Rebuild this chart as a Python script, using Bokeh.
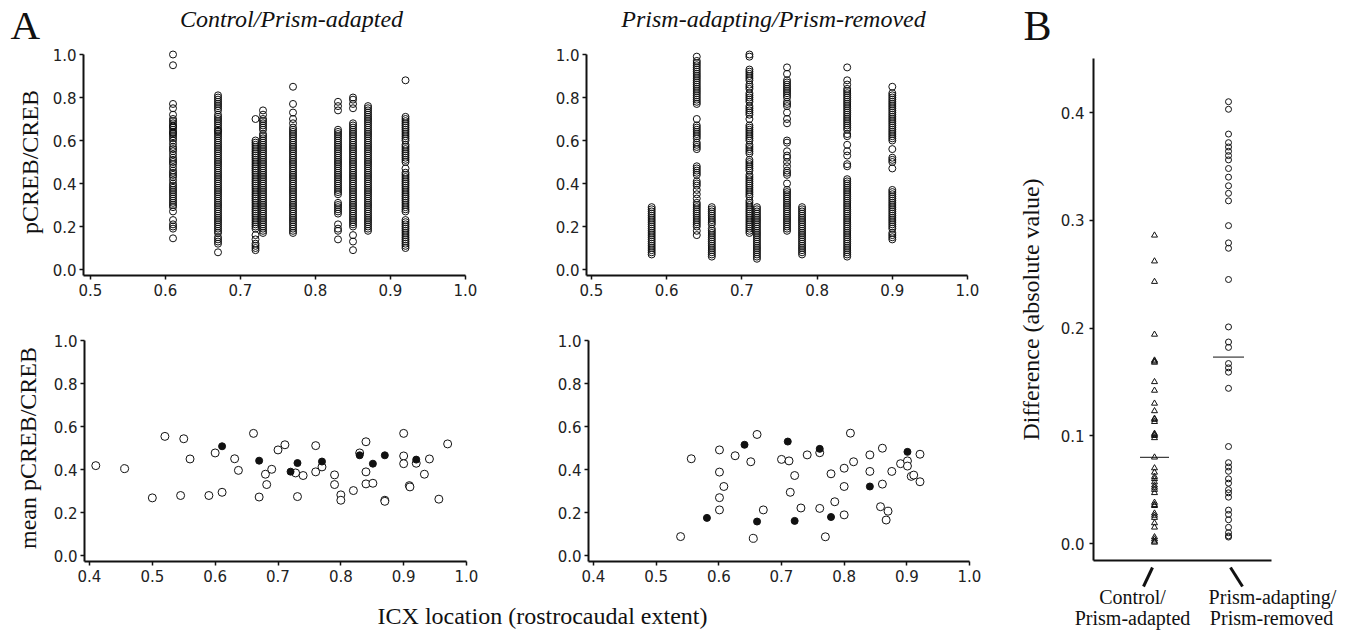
from bokeh.plotting import figure
from bokeh.models import Range1d, Label, FixedTicker, PrintfTickFormatter
from bokeh.layouts import row, column
from bokeh.embed import file_html
from bokeh.resources import INLINE

# ---------------- DATA ----------------
# Top-left: Control / Prism-adapted, pCREB/CREB per cell at each ICX location
cp_x = [0.61, 0.67, 0.72, 0.73, 0.77, 0.83, 0.85, 0.87, 0.92]
cp_061 = [1.00, 0.95, 0.77, 0.75, 0.72, 0.70, 0.69, 0.68, 0.67, 0.665, 0.66, 0.65, 0.64, 0.635, 0.63, 0.62, 0.61, 0.60, 0.585, 0.57, 0.56, 0.55, 0.535, 0.52, 0.51, 0.50, 0.49, 0.475, 0.46, 0.45, 0.44, 0.43, 0.415, 0.40, 0.39, 0.38, 0.37, 0.36, 0.35, 0.34, 0.33, 0.32, 0.31, 0.30, 0.29, 0.27, 0.23, 0.21, 0.20, 0.19, 0.145]
cp_067 = [0.81, 0.80, 0.79, 0.78, 0.77, 0.76, 0.75, 0.74, 0.72, 0.71, 0.70, 0.69, 0.68, 0.67, 0.66, 0.65, 0.645, 0.64, 0.63, 0.62, 0.61, 0.60, 0.59, 0.58, 0.57, 0.56, 0.55, 0.54, 0.53, 0.52, 0.51, 0.50, 0.49, 0.48, 0.47, 0.46, 0.45, 0.44, 0.43, 0.42, 0.41, 0.40, 0.39, 0.38, 0.37, 0.36, 0.35, 0.34, 0.33, 0.32, 0.31, 0.30, 0.29, 0.28, 0.27, 0.26, 0.25, 0.24, 0.23, 0.22, 0.21, 0.20, 0.19, 0.18, 0.17, 0.15, 0.14, 0.13, 0.12, 0.08]
cp_072 = [0.70, 0.60, 0.59, 0.58, 0.57, 0.56, 0.55, 0.54, 0.53, 0.52, 0.51, 0.50, 0.49, 0.48, 0.47, 0.46, 0.45, 0.44, 0.43, 0.42, 0.41, 0.40, 0.39, 0.38, 0.37, 0.36, 0.35, 0.34, 0.33, 0.32, 0.31, 0.30, 0.29, 0.28, 0.27, 0.26, 0.25, 0.24, 0.23, 0.22, 0.21, 0.20, 0.19, 0.16, 0.14, 0.12, 0.11, 0.10, 0.09]
cp_073 = [0.74, 0.72, 0.70, 0.69, 0.68, 0.67, 0.66, 0.65, 0.63, 0.62, 0.61, 0.60, 0.59, 0.58, 0.57, 0.56, 0.55, 0.54, 0.53, 0.52, 0.51, 0.50, 0.49, 0.48, 0.47, 0.46, 0.45, 0.44, 0.43, 0.42, 0.41, 0.40, 0.39, 0.38, 0.37, 0.36, 0.35, 0.34, 0.33, 0.32, 0.31, 0.30, 0.29, 0.28, 0.27, 0.26, 0.25, 0.24, 0.23, 0.22, 0.21, 0.20, 0.19, 0.18, 0.17]
cp_077 = [0.85, 0.77, 0.73, 0.70, 0.68, 0.66, 0.65, 0.64, 0.63, 0.62, 0.61, 0.60, 0.59, 0.58, 0.57, 0.56, 0.55, 0.54, 0.53, 0.52, 0.51, 0.50, 0.49, 0.48, 0.47, 0.46, 0.45, 0.44, 0.43, 0.42, 0.41, 0.40, 0.39, 0.38, 0.37, 0.36, 0.35, 0.34, 0.33, 0.32, 0.31, 0.30, 0.29, 0.28, 0.27, 0.26, 0.25, 0.24, 0.23, 0.22, 0.21, 0.20, 0.19, 0.18, 0.17]
cp_083 = [0.78, 0.76, 0.74, 0.65, 0.64, 0.63, 0.62, 0.61, 0.60, 0.59, 0.58, 0.57, 0.56, 0.55, 0.54, 0.53, 0.52, 0.51, 0.50, 0.49, 0.48, 0.47, 0.46, 0.45, 0.44, 0.43, 0.42, 0.41, 0.40, 0.39, 0.38, 0.37, 0.36, 0.35, 0.31, 0.30, 0.29, 0.28, 0.27, 0.26, 0.21, 0.19, 0.18, 0.14]
cp_085 = [0.80, 0.79, 0.77, 0.75, 0.68, 0.67, 0.66, 0.65, 0.64, 0.63, 0.62, 0.61, 0.60, 0.59, 0.58, 0.57, 0.56, 0.55, 0.54, 0.53, 0.52, 0.51, 0.50, 0.49, 0.48, 0.47, 0.46, 0.45, 0.44, 0.43, 0.42, 0.41, 0.40, 0.39, 0.38, 0.37, 0.36, 0.35, 0.34, 0.33, 0.32, 0.31, 0.30, 0.29, 0.28, 0.27, 0.26, 0.25, 0.24, 0.23, 0.22, 0.21, 0.20, 0.16, 0.13, 0.09]
cp_087 = [0.76, 0.75, 0.74, 0.73, 0.72, 0.71, 0.70, 0.69, 0.68, 0.67, 0.66, 0.65, 0.64, 0.63, 0.62, 0.61, 0.60, 0.59, 0.58, 0.57, 0.56, 0.55, 0.54, 0.53, 0.52, 0.51, 0.50, 0.49, 0.48, 0.47, 0.46, 0.45, 0.44, 0.43, 0.42, 0.41, 0.40, 0.39, 0.38, 0.37, 0.36, 0.35, 0.34, 0.33, 0.32, 0.31, 0.30, 0.29, 0.28, 0.27, 0.26, 0.25, 0.24, 0.23, 0.22, 0.21, 0.20, 0.19, 0.18]
cp_092 = [0.88, 0.71, 0.70, 0.69, 0.68, 0.67, 0.66, 0.65, 0.64, 0.63, 0.62, 0.61, 0.60, 0.58, 0.57, 0.56, 0.55, 0.54, 0.53, 0.52, 0.51, 0.50, 0.47, 0.45, 0.44, 0.43, 0.42, 0.41, 0.40, 0.39, 0.38, 0.37, 0.36, 0.35, 0.34, 0.33, 0.32, 0.31, 0.30, 0.29, 0.28, 0.27, 0.23, 0.22, 0.21, 0.20, 0.19, 0.18, 0.17, 0.16, 0.15, 0.14, 0.13, 0.12, 0.11, 0.10]
cp_cols = [cp_061, cp_067, cp_072, cp_073, cp_077, cp_083, cp_085, cp_087, cp_092]

# Top-right: Prism-adapting / Prism-removed
pa_x = [0.58, 0.64, 0.66, 0.71, 0.72, 0.76, 0.78, 0.84, 0.90]
pa_058 = [0.29, 0.28, 0.27, 0.26, 0.25, 0.24, 0.23, 0.22, 0.21, 0.20, 0.19, 0.18, 0.17, 0.16, 0.15, 0.14, 0.13, 0.12, 0.11, 0.10, 0.09, 0.08, 0.07]
pa_064 = [0.99, 0.97, 0.96, 0.95, 0.94, 0.93, 0.92, 0.91, 0.90, 0.89, 0.88, 0.87, 0.86, 0.85, 0.84, 0.83, 0.82, 0.81, 0.80, 0.79, 0.78, 0.77, 0.70, 0.67, 0.66, 0.65, 0.64, 0.63, 0.62, 0.61, 0.59, 0.58, 0.57, 0.56, 0.48, 0.47, 0.46, 0.45, 0.44, 0.41, 0.40, 0.39, 0.37, 0.35, 0.33, 0.31, 0.30, 0.29, 0.28, 0.27, 0.26, 0.25, 0.24, 0.23, 0.22, 0.21, 0.20, 0.18, 0.16]
pa_066 = [0.29, 0.28, 0.27, 0.26, 0.25, 0.24, 0.23, 0.22, 0.21, 0.19, 0.18, 0.17, 0.16, 0.15, 0.14, 0.13, 0.12, 0.11, 0.10, 0.09, 0.08, 0.07, 0.06]
pa_071 = [1.00, 0.99, 0.93, 0.92, 0.91, 0.90, 0.89, 0.88, 0.86, 0.85, 0.84, 0.82, 0.81, 0.80, 0.79, 0.78, 0.76, 0.75, 0.74, 0.73, 0.72, 0.70, 0.67, 0.66, 0.65, 0.64, 0.63, 0.62, 0.61, 0.60, 0.58, 0.57, 0.56, 0.55, 0.54, 0.51, 0.50, 0.49, 0.48, 0.47, 0.46, 0.44, 0.43, 0.42, 0.41, 0.40, 0.39, 0.38, 0.37, 0.36, 0.35, 0.34, 0.32, 0.31, 0.30, 0.29, 0.28, 0.27, 0.26, 0.25, 0.24, 0.23, 0.22, 0.21, 0.20, 0.19, 0.18, 0.17]
pa_072 = [0.29, 0.28, 0.27, 0.26, 0.25, 0.24, 0.23, 0.22, 0.21, 0.20, 0.19, 0.18, 0.17, 0.16, 0.15, 0.14, 0.13, 0.12, 0.11, 0.10, 0.09, 0.08, 0.07, 0.06, 0.05]
pa_076 = [0.94, 0.91, 0.88, 0.87, 0.86, 0.85, 0.84, 0.83, 0.82, 0.81, 0.80, 0.78, 0.77, 0.76, 0.73, 0.70, 0.68, 0.60, 0.59, 0.55, 0.53, 0.52, 0.50, 0.48, 0.46, 0.45, 0.44, 0.40, 0.37, 0.36, 0.35, 0.34, 0.33, 0.32, 0.31, 0.30, 0.29, 0.28, 0.27, 0.26, 0.25, 0.24, 0.23, 0.22, 0.21, 0.20, 0.19, 0.18]
pa_078 = [0.29, 0.28, 0.27, 0.26, 0.25, 0.24, 0.23, 0.22, 0.21, 0.20, 0.19, 0.18, 0.17, 0.16, 0.15, 0.14, 0.13, 0.12, 0.11, 0.10, 0.09, 0.08, 0.07]
pa_084 = [0.94, 0.88, 0.86, 0.84, 0.83, 0.82, 0.81, 0.80, 0.79, 0.78, 0.77, 0.76, 0.75, 0.74, 0.73, 0.72, 0.71, 0.70, 0.69, 0.68, 0.67, 0.66, 0.65, 0.63, 0.62, 0.58, 0.55, 0.53, 0.49, 0.48, 0.42, 0.41, 0.40, 0.39, 0.38, 0.37, 0.36, 0.35, 0.34, 0.33, 0.32, 0.31, 0.30, 0.29, 0.28, 0.27, 0.26, 0.25, 0.24, 0.23, 0.22, 0.21, 0.20, 0.19, 0.18, 0.17, 0.16, 0.15, 0.14, 0.13, 0.12, 0.11, 0.10, 0.09, 0.08, 0.07, 0.06]
pa_090 = [0.85, 0.82, 0.81, 0.80, 0.79, 0.78, 0.77, 0.76, 0.75, 0.74, 0.73, 0.72, 0.71, 0.70, 0.69, 0.68, 0.67, 0.66, 0.65, 0.64, 0.63, 0.62, 0.61, 0.60, 0.56, 0.52, 0.51, 0.50, 0.47, 0.37, 0.36, 0.35, 0.34, 0.33, 0.32, 0.31, 0.30, 0.29, 0.28, 0.27, 0.26, 0.25, 0.24, 0.23, 0.22, 0.21, 0.20, 0.19, 0.17, 0.16, 0.15, 0.14]
pa_cols = [pa_058, pa_064, pa_066, pa_071, pa_072, pa_076, pa_078, pa_084, pa_090]

# Bottom-left: mean pCREB/CREB, Control/Prism-adapted
bl_open_x = [0.41, 0.456, 0.50, 0.52, 0.545, 0.55, 0.56, 0.59, 0.60, 0.611, 0.631, 0.637, 0.661, 0.67, 0.68, 0.682, 0.69, 0.70, 0.711, 0.728, 0.731, 0.74, 0.76, 0.76, 0.77, 0.79, 0.79, 0.80, 0.80, 0.82, 0.83, 0.84, 0.84, 0.84, 0.851, 0.87, 0.87, 0.90, 0.90, 0.90, 0.909, 0.91, 0.92, 0.941, 0.933, 0.956, 0.97]
bl_open_y = [0.418, 0.404, 0.268, 0.554, 0.279, 0.543, 0.449, 0.279, 0.477, 0.294, 0.450, 0.396, 0.568, 0.272, 0.378, 0.330, 0.401, 0.491, 0.515, 0.384, 0.274, 0.372, 0.511, 0.389, 0.412, 0.375, 0.330, 0.282, 0.257, 0.302, 0.477, 0.529, 0.389, 0.333, 0.336, 0.257, 0.252, 0.568, 0.463, 0.427, 0.325, 0.319, 0.429, 0.449, 0.378, 0.262, 0.519]
bl_fill_x = [0.611, 0.67, 0.72, 0.731, 0.77, 0.83, 0.851, 0.87, 0.92]
bl_fill_y = [0.508, 0.441, 0.390, 0.430, 0.437, 0.466, 0.427, 0.466, 0.446]

# Bottom-right: mean pCREB/CREB, Prism-adapting/Prism-removed
br_open_x = [0.539, 0.556, 0.601, 0.601, 0.608, 0.601, 0.601, 0.626, 0.651, 0.661, 0.655, 0.671, 0.70, 0.712, 0.721, 0.714, 0.731, 0.741, 0.761, 0.761, 0.770, 0.779, 0.785, 0.800, 0.800, 0.800, 0.810, 0.815, 0.841, 0.841, 0.861, 0.861, 0.858, 0.870, 0.867, 0.876, 0.890, 0.901, 0.901, 0.907, 0.911, 0.921, 0.921]
br_open_y = [0.088, 0.450, 0.491, 0.388, 0.321, 0.269, 0.212, 0.464, 0.436, 0.563, 0.080, 0.212, 0.447, 0.440, 0.372, 0.294, 0.221, 0.468, 0.478, 0.219, 0.087, 0.380, 0.250, 0.406, 0.321, 0.189, 0.569, 0.436, 0.468, 0.391, 0.499, 0.332, 0.227, 0.206, 0.165, 0.391, 0.427, 0.440, 0.416, 0.368, 0.374, 0.471, 0.343]
br_fill_x = [0.581, 0.641, 0.661, 0.710, 0.721, 0.761, 0.779, 0.841, 0.901]
br_fill_y = [0.175, 0.515, 0.158, 0.530, 0.161, 0.496, 0.179, 0.321, 0.482]

# Panel B: absolute differences
b_categories = ["Control/Prism-adapted", "Prism-adapting/Prism-removed"]
diff_control = [0.286, 0.262, 0.243, 0.194, 0.170, 0.169, 0.168, 0.150, 0.142, 0.130, 0.123, 0.116, 0.115, 0.113, 0.102, 0.101, 0.100, 0.098, 0.080, 0.070, 0.066, 0.062, 0.060, 0.057, 0.054, 0.052, 0.050, 0.047, 0.038, 0.036, 0.035, 0.028, 0.026, 0.024, 0.019, 0.015, 0.006, 0.004, 0.002, 0.001]
diff_prism = [0.410, 0.403, 0.380, 0.372, 0.368, 0.364, 0.360, 0.356, 0.348, 0.340, 0.332, 0.325, 0.318, 0.295, 0.279, 0.274, 0.245, 0.201, 0.187, 0.182, 0.167, 0.163, 0.159, 0.144, 0.090, 0.075, 0.071, 0.067, 0.060, 0.056, 0.050, 0.047, 0.043, 0.031, 0.027, 0.022, 0.015, 0.010, 0.007, 0.006]
diff_means = [0.080, 0.173]

xticks_top = [0.5, 0.6, 0.7, 0.8, 0.9, 1.0]
xticks_bot = [0.4, 0.5, 0.6, 0.7, 0.8, 0.9, 1.0]
yticks_a = [0.0, 0.2, 0.4, 0.6, 0.8, 1.0]
yticks_b = [0.0, 0.1, 0.2, 0.3, 0.4]

# ---------------- STYLE / LAYOUT ----------------
SERIF = "Liberation Serif"
SANS = "DejaVu Sans"
INK = "#111111"
PIX = (0.0, 0.0, 1.0, 1.0)        # identity pixel mapping for x
PIXY = (0.0, 0.0, -1.0, 1.0)      # pixel mapping for y (page y downward)
BASELINE_FIX = 0.34               # measured label baseline shift (em)


class Panel:
    """figure whose canvas/frame sit at given page pixels; xa/ya = (v0, px0, v1, px1)"""
    def __init__(self, cw, ch, ox, oy, fl, ft, fr, fb, xa=PIX, ya=PIXY):
        self.kx = (xa[3] - xa[1]) / (xa[2] - xa[0])
        self.ky = (ya[3] - ya[1]) / (ya[2] - ya[0])
        self.xa, self.ya = xa, ya
        self.p = figure(width=cw, height=ch,
                        x_range=Range1d(self.x(fl), self.x(fr)),
                        y_range=Range1d(self.y(fb), self.y(ft)),
                        min_border_left=fl - ox, min_border_right=ox + cw - fr,
                        min_border_top=ft - oy, min_border_bottom=oy + ch - fb,
                        output_backend="svg", toolbar_location=None)
        p = self.p
        p.frame_align = False
        p.title.visible = False
        p.outline_line_color = None
        p.grid.visible = False
        p.background_fill_color = "white"
        p.border_fill_color = "white"

    def x(self, px):
        return self.xa[0] + (px - self.xa[1]) / self.kx

    def y(self, py):
        return self.ya[0] + (py - self.ya[1]) / self.ky

    def label(self, px, py, text, size, style="normal", align="left", font=SERIF):
        self.p.add_layout(Label(x=self.x(px), y=self.y(py - BASELINE_FIX * size), text=text,
                                text_font=font, text_font_size=f"{size}px",
                                text_font_style=style, text_align=align,
                                text_baseline="alphabetic", text_color=INK))


def text_panel(cw, ch, ox, oy, xa=PIX):
    t = Panel(cw, ch, ox, oy, ox, oy, ox + cw, oy + ch, xa=xa)
    t.p.axis.visible = False
    return t


def style_axes(p, xticks, yticks, xbounds, ybounds, ylabel, ylabel_standoff):
    for ax in (p.xaxis[0], p.yaxis[0]):
        ax.axis_line_width = 2
        ax.axis_line_color = INK
        ax.major_tick_line_width = 1.5
        ax.major_tick_line_color = INK
        ax.major_tick_out = 4
        ax.major_tick_in = 0
        ax.minor_tick_line_color = None
        ax.major_label_text_font = SANS
        ax.major_label_text_font_size = "15px"
        ax.major_label_text_color = "#222222"
        ax.formatter = PrintfTickFormatter(format="%.1f")
    p.xaxis[0].major_label_standoff = 4
    p.yaxis[0].major_label_standoff = 3
    p.xaxis[0].ticker = FixedTicker(ticks=xticks)
    p.yaxis[0].ticker = FixedTicker(ticks=yticks)
    p.xaxis[0].bounds = xbounds
    p.yaxis[0].bounds = ybounds
    p.yaxis[0].axis_label = ylabel
    p.yaxis[0].axis_label_text_font = SERIF
    p.yaxis[0].axis_label_text_font_size = "24px"
    p.yaxis[0].axis_label_text_font_style = "normal"
    p.yaxis[0].axis_label_text_color = INK
    p.yaxis[0].axis_label_standoff = ylabel_standoff


def flatten(xs, cols):
    X, Y = [], []
    for xv, col in zip(xs, cols):
        X += [xv] * len(col)
        Y += list(col)
    return X, Y


# --- header of panel A ---
hdr = text_panel(1010, 48, 0, 0)
hdr.label(10, 38, "A", 41)
hdr.label(291, 27, "Control/Prism-adapted", 24, style="italic", align="center")
hdr.label(773, 27, "Prism-adapting/Prism-removed", 24, style="italic", align="center")

# --- Top-left ---
tl = Panel(500, 255, 0, 48, 83, 48, 468, 275, (0.5, 90, 1.0, 465), (0.0, 269, 1.0, 54))
style_axes(tl.p, xticks_top, yticks_a, (tl.p.x_range.start, 1.0), (tl.p.y_range.start, 1.0), "pCREB/CREB", 7)
X, Y = flatten(cp_x, cp_cols)
tl.p.scatter(X, Y, marker="circle", size=7, fill_color=None, line_color=INK, line_width=1)

# --- Top-right ---
tr = Panel(510, 255, 500, 48, 586, 48, 970, 275, (0.5, 591, 1.0, 967), (0.0, 269, 1.0, 54))
style_axes(tr.p, xticks_top, yticks_a, (tr.p.x_range.start, 1.0), (tr.p.y_range.start, 1.0), "", 7)
X, Y = flatten(pa_x, pa_cols)
tr.p.scatter(X, Y, marker="circle", size=7, fill_color=None, line_color=INK, line_width=1)

# --- Bottom-left ---
bl = Panel(500, 287, 0, 303, 84, 334, 469, 561, (0.4, 89, 1.0, 466), (0.0, 555, 1.0, 340))
style_axes(bl.p, xticks_bot, yticks_a, (bl.p.x_range.start, 1.0), (bl.p.y_range.start, 1.0), "mean pCREB/CREB", 10)
bl.p.scatter(bl_open_x, bl_open_y, marker="circle", size=8, fill_color="white", line_color=INK, line_width=1)
bl.p.scatter(bl_fill_x, bl_fill_y, marker="circle", size=7, fill_color=INK, line_color=INK, line_width=1)

# --- Bottom-right ---
br = Panel(510, 287, 500, 303, 588, 334, 972, 561, (0.4, 593, 1.0, 969), (0.0, 555, 1.0, 340))
style_axes(br.p, xticks_bot, yticks_a, (br.p.x_range.start, 1.0), (br.p.y_range.start, 1.0), "", 7)
br.p.scatter(br_open_x, br_open_y, marker="circle", size=8, fill_color="white", line_color=INK, line_width=1)
br.p.scatter(br_fill_x, br_fill_y, marker="circle", size=7, fill_color=INK, line_color=INK, line_width=1)

# --- shared x label ---
xl = text_panel(1010, 40, 0, 590)
xl.label(542, 624, "ICX location (rostrocaudal extent)", 24, align="center")

# --- Panel B ---
cat_pos = [1, 2]
BXA = (1.0, 1154, 2.0, 1228)
hb = text_panel(340, 50, 1010, 0)
hb.label(1023, 40, "B", 42)

b = Panel(340, 516, 1010, 50, 1093, 58, 1271, 560, BXA, (0.0, 543, 0.4, 112))
pb = b.p
style_axes(pb, [], yticks_b, (pb.x_range.start, pb.x_range.end), (pb.y_range.start, 0.45),
           "Difference (absolute value)", 14)
pb.xaxis[0].major_tick_out = 0
pb.xaxis[0].major_label_standoff = 0
pb.xaxis[0].major_label_text_font_size = "0px"
pb.yaxis[0].major_label_standoff = 5
pb.scatter([cat_pos[0]] * len(diff_control), diff_control, marker="triangle", size=6,
           fill_color=None, line_color=INK, line_width=1)
pb.scatter([cat_pos[1]] * len(diff_prism), diff_prism, marker="circle", size=6,
           fill_color=None, line_color=INK, line_width=1)
pb.scatter([cat_pos[0]], [diff_means[0]], marker="dash", size=29, line_color=INK, line_width=1)
pb.scatter([cat_pos[1]], [diff_means[1]], marker="dash", size=31, line_color=INK, line_width=1)

fb = text_panel(340, 64, 1010, 566, xa=BXA)
# slanted category ticks (pixel offsets from each category position)
fb.p.segment(x0=[cat_pos[0] - 2 / fb.kx, cat_pos[1] + 2 / fb.kx],
             y0=[fb.y(567), fb.y(567)],
             x1=[cat_pos[0] - 11 / fb.kx, cat_pos[1] + 14 / fb.kx],
             y1=[fb.y(586), fb.y(586)], line_color=INK, line_width=3)
fb.label(1132, 603, "Control/", 20, align="center")
fb.label(1132, 624, "Prism-adapted", 20, align="center")
fb.label(1272, 603, "Prism-adapting/", 20, align="center")
fb.label(1271, 624, "Prism-removed", 20, align="center")

left = column(hdr.p, row(tl.p, tr.p), row(bl.p, br.p), xl.p)
right = column(hb.p, pb, fb.p)
layout = row(left, right)

open("out.html", "w").write(file_html(layout, INLINE))
